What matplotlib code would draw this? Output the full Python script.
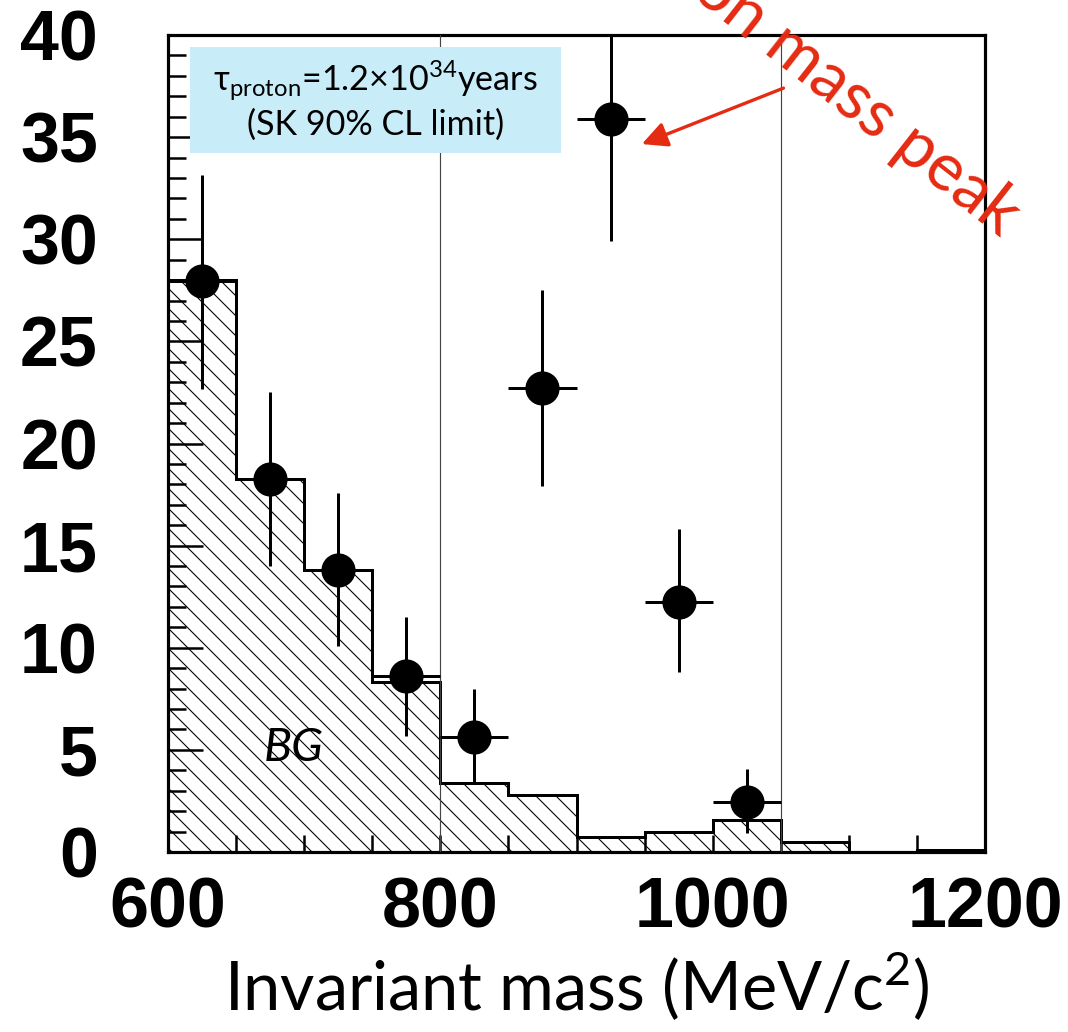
import numpy as np
import matplotlib
matplotlib.use("Agg")
import matplotlib.pyplot as plt
from matplotlib.patches import Rectangle
from matplotlib.ticker import MultipleLocator, FixedLocator

# background histogram (50 MeV bins)
bin_edges = [600, 650, 700, 750, 800, 850, 900, 950, 1000, 1050, 1100, 1150, 1200]
bg_counts = [28.0, 18.25, 13.8, 8.3, 3.37, 2.8, 0.73, 1.0, 1.57, 0.5, 0.0, 0.1]

# data points
mass = [625, 675, 725, 775, 825, 875, 925, 975, 1025]
counts = [27.96, 18.25, 13.8, 8.6, 5.65, 22.7, 35.9, 12.25, 2.46]
err_low = [5.3, 4.25, 3.7, 2.9, 2.3, 4.8, 6.0, 3.45, 1.53]
err_high = [5.2, 4.25, 3.8, 2.9, 2.35, 4.8, 6.0, 3.55, 1.59]
mass_halfwidth = [25] * len(mass)

window = [800, 1050]

red = "#e52b12"
plt.rcParams["hatch.linewidth"] = 0.65
plt.rcParams["mathtext.fontset"] = "custom"
plt.rcParams["mathtext.rm"] = "Lato"

fig = plt.figure(figsize=(8.9, 8.6), dpi=120)
ax = fig.add_axes([168 / 1068, 1 - 852 / 1032, 817 / 1068, 817 / 1032])

# background: hatched fill + thick outline
ax.stairs(bg_counts, bin_edges, fill=True, facecolor="white", edgecolor="black",
          hatch="\\\\", linewidth=0, zorder=1)
ax.stairs(bg_counts, bin_edges, color="black", linewidth=1.8, zorder=2)

for w in window:
    ax.axvline(w, color="#444444", linewidth=0.7, zorder=3)

ax.errorbar(mass, counts, xerr=mass_halfwidth, yerr=[err_low, err_high], fmt="o",
            color="black", markersize=19.5, elinewidth=1.8, capsize=0, zorder=4)

ax.set_xlim(600, 1200)
ax.set_ylim(0, 40)

ax.xaxis.set_major_locator(FixedLocator([600, 800, 1000, 1200]))
ax.xaxis.set_minor_locator(MultipleLocator(50))
ax.yaxis.set_major_locator(MultipleLocator(5))
ax.yaxis.set_minor_locator(MultipleLocator(1))
ax.tick_params(axis="both", which="both", direction="in", width=1.5,
               top=False, right=False)
ax.tick_params(axis="y", which="major", length=21, pad=42)
ax.tick_params(axis="y", which="minor", length=10.5)
ax.tick_params(axis="x", which="both", length=10.5, pad=15)
for lab in ax.get_xticklabels() + ax.get_yticklabels():
    lab.set_fontfamily("Liberation Sans")
    lab.set_fontweight("bold")
    lab.set_fontsize(42)

for s in ax.spines.values():
    s.set_linewidth(1.9)

ax.set_xlabel("Invariant mass (MeV/c$^2$)", fontfamily="Lato", fontsize=40, labelpad=3)

ax.text(692, 5.1, "BG", fontfamily="Lato", fontstyle="italic", fontsize=28,
        ha="center", va="center", zorder=5)

# info box
ax.add_patch(Rectangle((0.027, 0.8556), 0.454, 0.1297, transform=ax.transAxes,
                       facecolor="#c8edf9", edgecolor="none", zorder=6))
ax.text(0.254, 0.921, "τ$_{\\mathrm{proton}}$=1.2×10$^{\\mathrm{34}}$years\n(SK 90% CL limit)",
        transform=ax.transAxes, fontfamily="Lato", fontsize=20.5, ha="center", va="center",
        linespacing=1.2, zorder=7)

# annotation
ax.annotate("", xy=(948, 34.66), xytext=(1052, 37.4),
            arrowprops=dict(arrowstyle="-|>", color=red, lw=2.0, mutation_scale=32,
                            shrinkA=0, shrinkB=0), zorder=7, annotation_clip=False)
fig.text(1000 / 1068, 1 - 238 / 1032, "Proton mass peak", color=red, fontfamily="Lato",
         fontsize=40, rotation=-38, rotation_mode="anchor", ha="right", va="baseline")

fig.savefig("out.png", dpi=120)
